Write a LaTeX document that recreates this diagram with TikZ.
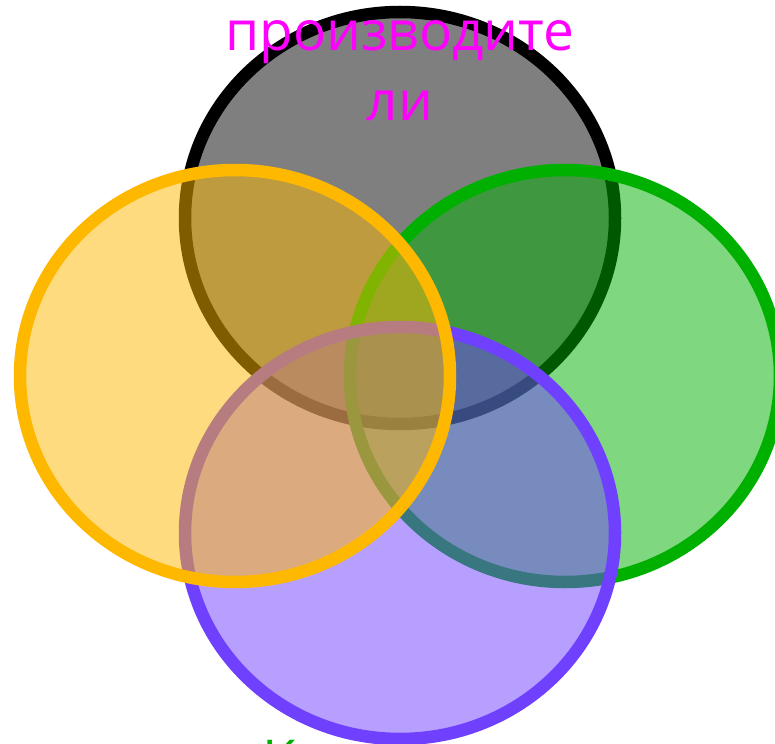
\documentclass[tikz,border=0pt]{standalone}
\usepackage{fontspec}
\setmainfont{Open Sans}
\usetikzlibrary{shapes.geometric}
\definecolor{SetBlack}{HTML}{000000}
\definecolor{SetGreen}{HTML}{00B000}
\definecolor{SetViolet}{HTML}{7040FF}
\definecolor{SetAmber}{HTML}{FFB800}
\definecolor{NamePink}{HTML}{FF00FF}
\definecolor{NameGreen}{HTML}{00B000}

\begin{document}
\begin{tikzpicture}[x=1pt, y=-1pt,
  set/.style={ellipse, line width=12.5pt, fill opacity=0.5, draw opacity=1,
    minimum width=430pt, minimum height=412pt, inner sep=0pt, outer sep=0pt},
  setname/.style={inner sep=0pt, font=\fontsize{55}{70}\selectfont, align=center}
]
  \useasboundingbox (0,0) rectangle (775,743);
  \clip (0,0) rectangle (775,743);

  \node[set, draw=SetBlack, fill=SetBlack] (producers) at (400,218) {};
  \node[set, draw=SetGreen, fill=SetGreen] (right) at (565,376) {};
  \node[set, draw=SetViolet, fill=SetViolet] (bottom) at (400,533) {};
  \node[set, draw=SetAmber, fill=SetAmber] (left) at (235,376) {};

  % set names
  \node[setname, text=NamePink, anchor=north] (producersname) at (400,20) {производите\\ли};
  \node[setname, text=NameGreen, anchor=north west] (bottomname) at (262,740) {К};
\end{tikzpicture}
\end{document}
